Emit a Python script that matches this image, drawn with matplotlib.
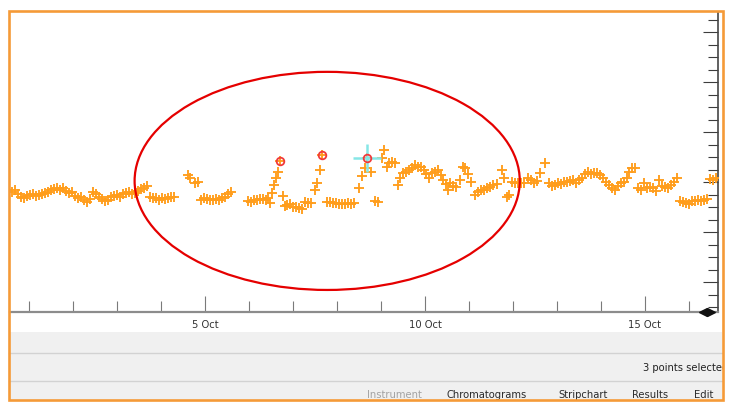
import numpy as np
import matplotlib
matplotlib.use('Agg')
import matplotlib.pyplot as plt
from matplotlib.patches import Ellipse, Rectangle
from matplotlib.lines import Line2D
from matplotlib.ticker import MultipleLocator, FixedLocator

# sample time, as day of October (values below 1 are 30 Sep)
days = [
    0.61, 0.68, 0.75, 0.82, 0.89, 0.95, 1.02, 1.09, 1.16, 1.23, 1.30, 1.36, 1.43, 1.50, 1.57, 1.64,
    1.70, 1.77, 1.84, 1.91, 1.98, 2.05, 2.11, 2.18, 2.25, 2.32, 2.39, 2.45, 2.52, 2.59, 2.66, 2.73,
    2.80, 2.86, 2.93, 3.00, 3.07, 3.14, 3.20, 3.27, 3.34, 3.41, 3.48, 3.55, 3.61, 3.68,
    3.75, 3.82, 3.89, 3.95, 4.02, 4.09, 4.16, 4.23, 4.30,
    4.61, 4.66, 4.77, 4.84,
    4.91, 4.98, 5.05, 5.11, 5.18, 5.25, 5.32, 5.39, 5.45, 5.52, 5.59,
    5.98, 6.05, 6.11, 6.18, 6.25, 6.32, 6.39, 6.43, 6.48, 6.52, 6.57, 6.61, 6.66, 6.70,
    6.77, 6.82, 6.86, 6.93, 7.00, 7.07, 7.14, 7.20, 7.27, 7.34, 7.41, 7.50, 7.55, 7.61, 7.66,
    7.77, 7.84, 7.91, 7.98, 8.05, 8.11, 8.18, 8.25, 8.32, 8.39,
    8.50, 8.57, 8.64, 8.68, 8.77, 8.86, 8.93, 9.02, 9.07, 9.14, 9.18, 9.25, 9.32, 9.39, 9.43, 9.50,
    9.57, 9.64, 9.70, 9.77, 9.84, 9.91, 9.98, 10.02, 10.09, 10.16, 10.23, 10.30, 10.36, 10.41, 10.48,
    10.52, 10.57, 10.64, 10.70, 10.80, 10.86, 10.91, 10.98, 11.05, 11.14, 11.20, 11.27, 11.34, 11.41,
    11.48, 11.55, 11.64, 11.75, 11.80, 11.86, 11.91, 11.98, 12.05, 12.11, 12.18, 12.25, 12.34, 12.41,
    12.48, 12.55, 12.61, 12.73, 12.82, 12.89, 12.95, 13.02, 13.09, 13.16, 13.23, 13.30, 13.36, 13.43,
    13.50, 13.57, 13.64, 13.70, 13.77, 13.84, 13.91, 13.98, 14.05, 14.11, 14.18, 14.25, 14.32, 14.39,
    14.45, 14.52, 14.59, 14.64, 14.70, 14.77, 14.84, 14.91, 14.98, 15.05, 15.11, 15.18, 15.25, 15.32,
    15.39, 15.45, 15.52, 15.59, 15.66, 15.73, 15.80, 15.86, 15.93, 16.00, 16.07, 16.14, 16.20, 16.27,
    16.34, 16.41, 16.48, 16.55, 16.61,
]

signal = [
    140, 142, 138, 135, 134, 136, 137, 138, 136, 137, 138, 139, 140, 142, 143, 144,
    142, 144, 141, 139, 140, 136, 134, 135, 132, 130, 133, 140, 138, 135, 133, 131,
    132, 135, 136, 137, 135, 138, 139, 140, 138, 139, 141, 143, 144, 146,
    135, 134, 134, 132, 134, 133, 134, 135, 135,
    157, 154, 149, 150,
    132, 134, 133, 132, 132, 133, 132, 134, 135, 138, 140,
    131, 130, 132, 132, 133, 133, 132, 134, 129, 139, 147, 154, 160, 171,
    136, 126, 127, 128, 125, 125, 124, 123, 130, 129, 129, 142, 149, 162, 177,
    130, 130, 129, 129, 128, 128, 128, 129, 128, 129,
    144, 156, 164, 174, 160, 131, 130, 174, 182, 165, 169, 170, 169, 147, 154, 159,
    160, 162, 164, 167, 165, 165, 162, 158, 154, 159, 160, 162, 157, 152, 148,
    142, 149, 146, 145, 152, 165, 164, 158, 150, 137, 140, 142, 142, 144,
    145, 147, 148, 162, 154, 135, 137, 150, 149, 149, 149, 149, 154, 152,
    149, 151, 159, 169, 149, 146, 147, 149, 148, 150, 150, 151, 152, 149,
    152, 154, 158, 160, 158, 159, 159, 157, 154, 150, 147, 144, 142, 146,
    149, 150, 154, 160, 164, 164, 144, 142, 149, 144, 145, 144, 141, 152,
    146, 145, 144, 147, 150, 154, 131, 130, 129, 128, 131, 131, 132, 131,
    132, 133, 153, 152, 154,
]

selected_days = [6.70, 7.66, 8.68]
cursor_day = 8.68

tick_days = [5, 10, 15]
tick_labels = ['5 Oct', '10 Oct', '15 Oct']

tabs = ['Instrument', 'Chromatograms', 'Stripchart', 'Results', 'Edit']
tab_x = [394, 487, 583, 650, 704]
status_text = '3 points selected'

W, H = 732, 404


def fx(px):
    return px / W


def fy(py):
    return 1 - py / H


fig = plt.figure(figsize=(W / 100, H / 100), dpi=100)
fig.patch.set_facecolor('white')
plt.rcParams['font.family'] = ['DejaVu Sans']

ax = fig.add_axes([fx(10), fy(312), fx(718) - fx(10), fy(12) - fy(312)])
ax.set_facecolor('white')
ax.set_xlim(0.568, 16.66)
ax.set_ylim(20, 320)

for s in ['top', 'left']:
    ax.spines[s].set_visible(False)
ax.spines['bottom'].set_color('#8c8c8c')
ax.spines['bottom'].set_linewidth(1.6)
ax.spines['right'].set_color('#454545')
ax.spines['right'].set_linewidth(1.2)

# x axis: a tick every day, labels every 5 days
ax.xaxis.set_major_locator(FixedLocator(tick_days))
ax.set_xticklabels(tick_labels)
ax.xaxis.set_minor_locator(MultipleLocator(1))
ax.tick_params(axis='x', which='both', direction='in', color='#7a7a7a', width=0.8,
               labelsize=7.2, labelcolor='#333333', pad=6)
ax.tick_params(axis='x', which='major', length=11.5)
ax.tick_params(axis='x', which='minor', length=8)

# y axis on the right, no labels
ax.yaxis.tick_right()
ax.yaxis.set_major_locator(MultipleLocator(50))
ax.yaxis.set_minor_locator(MultipleLocator(12.5))
ax.tick_params(axis='y', which='both', direction='in', color='#3c3c3c', width=0.8,
               labelright=False, labelleft=False, left=False)
ax.tick_params(axis='y', which='major', length=10.8)
ax.tick_params(axis='y', which='minor', length=7.2)

days_arr = np.array(days)
sig_arr = np.array(signal)
ax.plot(days_arr, sig_arr, ls='none', marker='+', ms=6.8, mew=1.35, color='#ff9d1c', zorder=3)

# cursor cross on the last selected point
cur = np.isclose(days_arr, cursor_day)
ax.plot(days_arr[cur], sig_arr[cur], ls='none', marker='+', ms=20, mew=1.8,
        color='#86e6e6', zorder=4)

sel = np.isin(np.round(days_arr, 2), selected_days)
ax.plot(days_arr[sel], sig_arr[sel], ls='none', marker='o', ms=5.5, mfc='none',
        mec='#f03a3a', mew=1.3, zorder=5)

ax.add_patch(Ellipse((0.448, 0.437), 0.544, 0.727, transform=ax.transAxes, fill=False,
                     ec='#e50000', lw=1.6, clip_on=False, zorder=6))

# panels below the chart
fig.add_artist(Rectangle((fx(9), fy(400)), fx(722) - fx(9), fy(332) - fy(400),
                         transform=fig.transFigure, fc='#f0f0f0', ec='none', zorder=1))
for py in [353, 381]:
    fig.add_artist(Line2D([fx(9), fx(722)], [fy(py), fy(py)], transform=fig.transFigure,
                          color='#d2d2d2', lw=1.0, zorder=2))

fig.text(fx(643), fy(368), status_text, fontsize=7.2, color='#222222',
         ha='left', va='center', zorder=3)
for name, x in zip(tabs, tab_x):
    fig.text(fx(x), fy(395), name, fontsize=7.2, ha='center', va='center', zorder=3,
             color='#a3a3a3' if name == 'Instrument' else '#2a2a2a')

# scroll arrows at the end of the time axis
for mk, px in [('<', 702.5), ('>', 711)]:
    fig.add_artist(Line2D([fx(px)], [fy(312)], transform=fig.transFigure, marker=mk,
                          ms=5.5, color='#111111', ls='none', zorder=4))

# white margin over any overflow, then the orange frame
fig.add_artist(Rectangle((fx(723), 0), 1 - fx(723), 1, transform=fig.transFigure,
                         fc='white', ec='none', zorder=8))
fig.add_artist(Rectangle((fx(8.5), fy(400)), fx(722.5) - fx(8.5), fy(10.5) - fy(400),
                         transform=fig.transFigure, fill=False, ec='#f59a38', lw=1.9, zorder=9))

fig.savefig('out.png', dpi=100)
